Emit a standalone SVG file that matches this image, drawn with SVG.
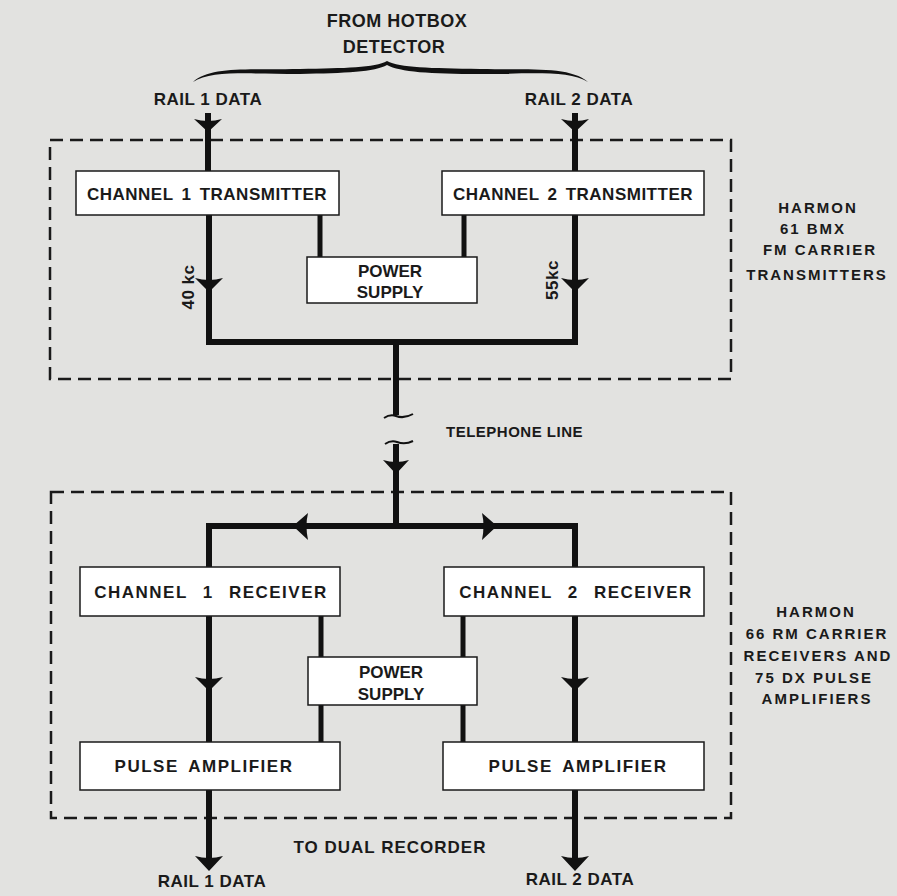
<svg xmlns="http://www.w3.org/2000/svg" width="897" height="896" viewBox="0 0 897 896">
<defs>
<style>
.bg{fill:#e2e2e0}
.box{fill:#ffffff;stroke:#1a1a1a;stroke-width:1.5}
.dash{fill:none;stroke:#1a1a1a;stroke-width:2.5;stroke-dasharray:13 7}
.sig{fill:none;stroke:#111;stroke-width:6;stroke-linejoin:miter;stroke-linecap:butt}
.pwr{fill:none;stroke:#111;stroke-width:5}
.ah{fill:#111}
text{font-family:"Liberation Sans",Arial,sans-serif;fill:#1a1a1a;font-weight:bold}
.lbl{font-size:17px;letter-spacing:0.5px;word-spacing:3px;text-anchor:middle}
.rx{font-size:17px;letter-spacing:1.5px;word-spacing:9px;text-anchor:middle}
.pa{font-size:17px;letter-spacing:1.5px;word-spacing:4px;text-anchor:middle}
.ps{font-size:17px;text-anchor:middle}
.sm{font-size:17px;text-anchor:middle;letter-spacing:0.5px}
.side{font-size:15px;text-anchor:middle;letter-spacing:2px}
</style>
</defs>
<rect class="bg" x="0" y="0" width="897" height="896"/>

<g id="frames">
<rect class="dash" x="50" y="140" width="681" height="239"/>
<rect class="dash" x="51" y="492" width="680" height="326"/>
</g>

<g id="connectors">
<!-- top inputs -->
<path class="sig" d="M208 113 V171"/>
<path class="sig" d="M575 113 V171"/>
<path class="ah" d="M194 119 Q208 123 222 119 L208 132 Z"/>
<path class="ah" d="M561 119 Q575 123 589 119 L575 132 Z"/>
<!-- transmitter outputs -->
<path class="sig" d="M209 215 V342 H575 V215"/>
<path class="ah" d="M195 278 Q209 282 223 278 L209 292 Z"/>
<path class="ah" d="M561 278 Q575 282 589 278 L575 292 Z"/>
<path class="pwr" d="M320 215 V257"/>
<path class="pwr" d="M464 215 V257"/>
<!-- telephone line -->
<path class="sig" d="M396 342 V415"/>
<path class="sig" d="M396 444 V526"/>
<path d="M384 418 Q390 414 396 416 Q404 419 413 414" fill="none" stroke="#111" stroke-width="2"/>
<path d="M385 444 Q391 440 397 442 Q405 445 413 441" fill="none" stroke="#111" stroke-width="2"/>
<path class="ah" d="M383 460 Q396 464 409 460 L396 474 Z"/>
<!-- distribution -->
<path class="sig" d="M209 567 V526 H575 V567"/>
<path class="ah" d="M293 526 L308 513 Q305 526 308 540 Z"/>
<path class="ah" d="M497 526 L482 513 Q485 526 482 540 Z"/>
<!-- receiver to pulse amps -->
<path class="sig" d="M209 616 V742"/>
<path class="sig" d="M575 616 V742"/>
<path class="ah" d="M195 677 Q209 681 223 677 L209 691 Z"/>
<path class="ah" d="M561 677 Q575 681 589 677 L575 691 Z"/>
<path class="pwr" d="M321 616 V742"/>
<path class="pwr" d="M463 616 V742"/>
<!-- outputs -->
<path class="sig" d="M209 790 V858"/>
<path class="sig" d="M575 790 V858"/>
<path class="ah" d="M195 856 Q209 860 223 856 L209 871 Z"/>
<path class="ah" d="M561 856 Q575 860 589 856 L575 871 Z"/>
<!-- brace -->
<path class="ah" d="M193 82 C210 66 250 70 300 69 C345 68 375 68 387 61 C400 68 430 68 480 69 C530 70 570 66 588 82 C568 70 530 74 480 74 C430 74 400 72 387 65 C375 72 345 73 300 74 C250 74 212 70 193 82 Z"/>
</g>

<g id="tx1"><rect class="box" x="76" y="171" width="263" height="44"/><text class="lbl" x="207" y="200">CHANNEL 1 TRANSMITTER</text></g>
<g id="tx2"><rect class="box" x="442" y="171" width="262" height="44"/><text class="lbl" x="573" y="200">CHANNEL 2 TRANSMITTER</text></g>
<g id="ps1"><rect class="box" x="307" y="257" width="170" height="46"/><text class="ps" x="390" y="277">POWER</text><text class="ps" x="390" y="298">SUPPLY</text></g>

<g id="rx1"><rect class="box" x="80" y="567" width="260" height="49"/><text class="rx" x="211" y="598">CHANNEL 1 RECEIVER</text></g>
<g id="rx2"><rect class="box" x="444" y="567" width="260" height="49"/><text class="rx" x="576" y="598">CHANNEL 2 RECEIVER</text></g>
<g id="ps2"><rect class="box" x="308" y="657" width="169" height="48"/><text class="ps" x="391" y="678">POWER</text><text class="ps" x="391" y="700">SUPPLY</text></g>
<g id="pa1"><rect class="box" x="80" y="742" width="260" height="48"/><text class="pa" x="204" y="772">PULSE AMPLIFIER</text></g>
<g id="pa2"><rect class="box" x="443" y="742" width="261" height="48"/><text class="pa" x="578" y="772">PULSE AMPLIFIER</text></g>

<g id="labels">
<text class="sm" x="397" y="27" style="font-size:18px">FROM HOTBOX</text>
<text class="sm" x="394" y="53" style="font-size:18px">DETECTOR</text>
<text class="sm" x="208" y="105">RAIL 1 DATA</text>
<text class="sm" x="579" y="105">RAIL 2 DATA</text>
<text class="sm" transform="translate(194 287) rotate(-90)">40 kc</text>
<text class="sm" transform="translate(558 280) rotate(-90)">55kc</text>
<text class="sm" x="446" y="437" style="text-anchor:start;font-size:15px;letter-spacing:0.5px">TELEPHONE LINE</text>
<text class="sm" x="390" y="853" style="letter-spacing:1px">TO DUAL RECORDER</text>
<text class="sm" x="212" y="887">RAIL 1 DATA</text>
<text class="sm" x="580" y="885">RAIL 2 DATA</text>
<text class="side" x="818" y="213">HARMON</text>
<text class="side" x="813" y="234">61 BMX</text>
<text class="side" x="820" y="255">FM CARRIER</text>
<text class="side" x="817" y="280">TRANSMITTERS</text>
<text class="side" x="816" y="617">HARMON</text>
<text class="side" x="817" y="639">66 RM CARRIER</text>
<text class="side" x="818" y="661">RECEIVERS AND</text>
<text class="side" x="814" y="683">75 DX PULSE</text>
<text class="side" x="817" y="704">AMPLIFIERS</text>
</g>
</svg>
